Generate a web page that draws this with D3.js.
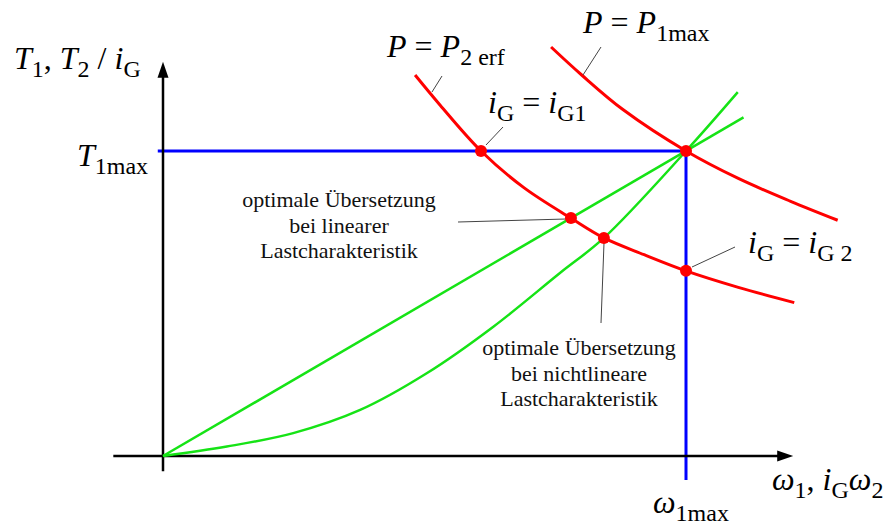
<!DOCTYPE html>
<html>
<head>
<meta charset="utf-8">
<script src="https://cdn.jsdelivr.net/npm/d3@7"></script>
<style>
  html, body { margin: 0; padding: 0; background: #fff; }
  svg { display: block; }
</style>
</head>
<body>
<svg id="chart" width="885" height="525"></svg>
<script>
// Normalised units: ω1max = 1 on the speed axis, T1max = 1 on the torque axis.
const omegaMax = 1;
const torqueMax = 1;

// Extents of the drawn axes (arrow tips) in the same units
const xAxisExtent = [-0.095, 1.205];
const yAxisExtent = [-0.05, 1.293];

// Constant-power hyperbolas (ω, T)
const pReqCurve = [
  [0.482, 1.249], [0.53, 1.15], [0.608, 1.0], [0.69, 0.88], [0.78, 0.78],
  [0.843, 0.715], [0.92, 0.66], [1.0, 0.607], [1.1, 0.553], [1.207, 0.503]
];
const pMaxCurve = [
  [0.742, 1.341], [0.80, 1.25], [0.88, 1.135], [1.0, 1.0],
  [1.1, 0.91], [1.2, 0.835], [1.29, 0.773]
];

// Load characteristics (ω, T)
const linearLoad = [[0, 0], [1.11, 1.11]];
const nonlinearLoad = [
  [0, 0], [0.122, 0.031], [0.249, 0.075], [0.377, 0.151], [0.505, 0.272],
  [0.631, 0.423], [0.759, 0.6], [0.843, 0.715], [1.0, 1.0], [1.099, 1.193]
];

// Operating points
const operatingPoints = [
  [0.608, 1.0],   // i_G = i_G1
  [0.78, 0.78],   // optimum, linear load
  [0.843, 0.715], // optimum, nonlinear load
  [1.0, 1.0],     // T1max at ω1max
  [1.0, 0.607]    // i_G = i_G2
];

const svg = d3.select("#chart");
const x = d3.scaleLinear().domain([0, omegaMax]).range([163, 686]);
const y = d3.scaleLinear().domain([0, torqueMax]).range([456, 151]);

const line = d3.line().x(d => x(d[0])).y(d => y(d[1]));
const curve = d3.line().x(d => x(d[0])).y(d => y(d[1])).curve(d3.curveCatmullRom.alpha(0.5));

// Limit lines T1max and ω1max
svg.append("path")
  .attr("d", line([[-0.01, torqueMax], [omegaMax, torqueMax], [omegaMax, -0.079]]))
  .attr("fill", "none").attr("stroke", "#0000ff").attr("stroke-width", 3);

// Axes with arrowheads
const axisG = svg.append("g").attr("stroke", "#000").attr("fill", "#000");
const x0 = x(xAxisExtent[0]), x1 = x(xAxisExtent[1]);
const y0 = y(yAxisExtent[0]), y1 = y(yAxisExtent[1]);
axisG.append("line").attr("x1", x0).attr("y1", y(0)).attr("x2", x1 - 10).attr("y2", y(0)).attr("stroke-width", 2.5);
axisG.append("line").attr("x1", x(0)).attr("y1", y0).attr("x2", x(0)).attr("y2", y1 + 10).attr("stroke-width", 2.5);
axisG.append("path").attr("stroke", "none")
  .attr("d", `M${x1},${y(0)} L${x1 - 16},${y(0) - 5.5} L${x1 - 16},${y(0) + 5.5} Z`);
axisG.append("path").attr("stroke", "none")
  .attr("d", `M${x(0)},${y1} L${x(0) - 5.5},${y1 + 16} L${x(0) + 5.5},${y1 + 16} Z`);

// Load characteristics
svg.append("path").attr("d", line(linearLoad))
  .attr("fill", "none").attr("stroke", "#16e316").attr("stroke-width", 2.5);
svg.append("path").attr("d", curve(nonlinearLoad))
  .attr("fill", "none").attr("stroke", "#16e316").attr("stroke-width", 2.5);

// Power hyperbolas
svg.append("path").attr("d", curve(pReqCurve))
  .attr("fill", "none").attr("stroke", "#ff0000").attr("stroke-width", 3);
svg.append("path").attr("d", curve(pMaxCurve))
  .attr("fill", "none").attr("stroke", "#ff0000").attr("stroke-width", 3);

// Leader lines
const leaders = [
  [[442, 76], [432, 92]],
  [[601, 47], [583, 75]],
  [[503, 127], [486, 145]],
  [[458, 222], [566, 219]],
  [[604, 243], [601, 323]],
  [[735, 247], [692, 267]]
];
svg.append("g").selectAll("line").data(leaders).join("line")
  .attr("x1", d => d[0][0]).attr("y1", d => d[0][1])
  .attr("x2", d => d[1][0]).attr("y2", d => d[1][1])
  .attr("stroke", "#444").attr("stroke-width", 1);

// Operating points
svg.append("g").selectAll("circle").data(operatingPoints).join("circle")
  .attr("cx", d => x(d[0])).attr("cy", d => y(d[1])).attr("r", 6)
  .attr("fill", "#ff0000");

// Formula labels: italic symbols with upright subscripts
const FONT = "'Liberation Serif', 'Times New Roman', serif";
function formula(px, py, parts) {
  const t = svg.append("text").attr("x", px).attr("y", py)
    .attr("font-family", FONT).attr("fill", "#000")
    .style("white-space", "pre");
  let shifted = false;
  parts.forEach(p => {
    const s = t.append("tspan").text(p[0]);
    const kind = p[1];
    if (kind === "sub") {
      s.attr("font-size", 24).attr("font-style", "normal");
      if (!shifted) { s.attr("dy", 8); shifted = true; }
    } else {
      s.attr("font-size", 32).attr("font-style", kind === "it" ? "italic" : "normal");
      if (shifted) { s.attr("dy", -8); shifted = false; }
    }
  });
  return t;
}

formula(14, 69, [["T", "it"], ["1", "sub"], [", ", "n"], ["T", "it"], ["2", "sub"], [" / ", "n"], ["i", "it"], ["G", "sub"]]);
formula(77, 166, [["T", "it"], ["1max", "sub"]]);
formula(387, 57, [["P", "it"], [" = ", "n"], ["P", "it"], ["2 erf", "sub"]]);
formula(583, 33, [["P", "it"], [" = ", "n"], ["P", "it"], ["1max", "sub"]]);
formula(488, 113, [["i", "it"], ["G", "sub"], [" = ", "n"], ["i", "it"], ["G1", "sub"]]);
formula(748, 253, [["i", "it"], ["G", "sub"], [" = ", "n"], ["i", "it"], ["G 2", "sub"]]);
formula(772, 490, [["ω", "it"], ["1", "sub"], [", ", "n"], ["i", "it"], ["G", "sub"], ["ω", "it"], ["2", "sub"]]);
formula(653, 513, [["ω", "it"], ["1max", "sub"]]);

// Explanatory notes
function note(cx, baseline, lines) {
  const t = svg.append("text").attr("font-family", FONT).attr("font-size", 22)
    .attr("text-anchor", "middle").attr("fill", "#111");
  lines.forEach((l, i) => {
    t.append("tspan").attr("x", cx).attr("y", baseline + i * 25.5).text(l);
  });
}
note(339, 207, ["optimale Übersetzung", "bei linearer", "Lastcharakteristik"]);
note(579, 355, ["optimale Übersetzung", "bei nichtlineare", "Lastcharakteristik"]);
</script>
</body>
</html>
